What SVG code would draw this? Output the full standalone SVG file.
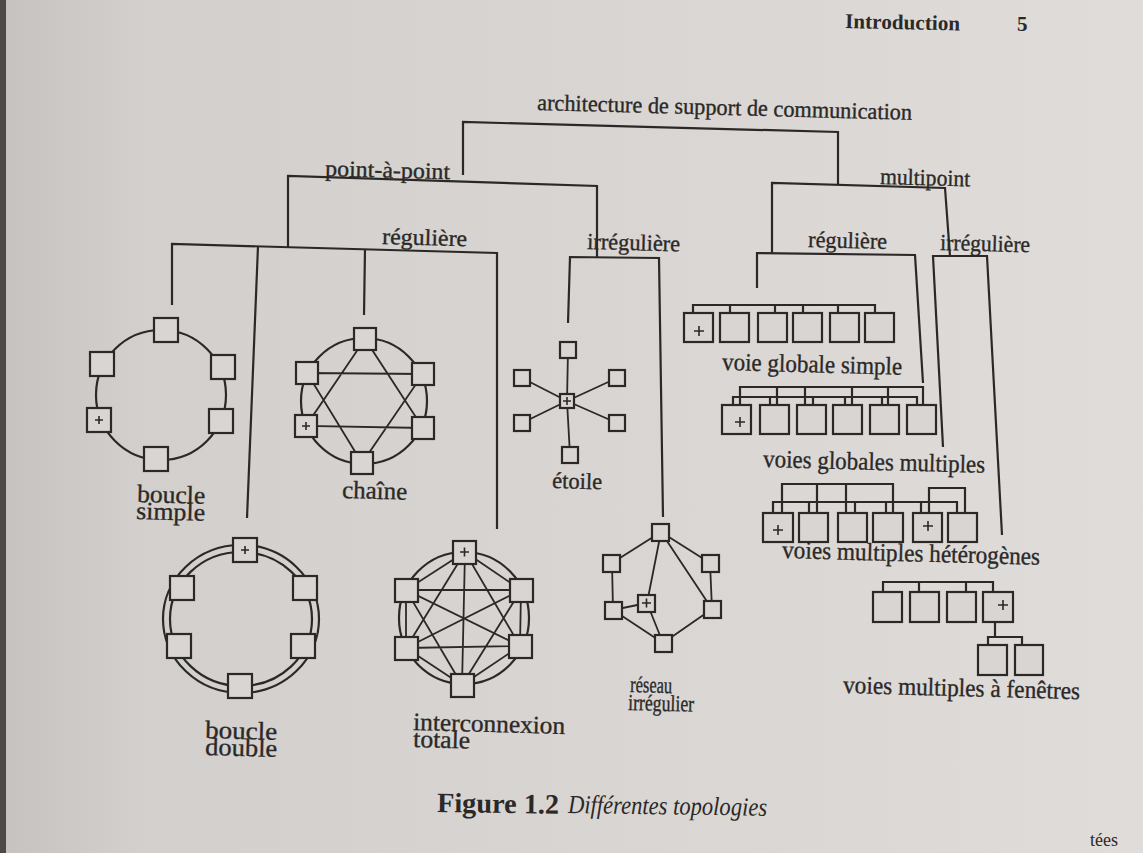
<svg xmlns="http://www.w3.org/2000/svg" width="1143" height="853" viewBox="0 0 1143 853">
<defs>
<linearGradient id="pg" x1="0" y1="0" x2="1" y2="0">
<stop offset="0" stop-color="#c6c2bf"/>
<stop offset="0.12" stop-color="#d2cfcc"/>
<stop offset="0.6" stop-color="#d9d6d3"/>
<stop offset="1" stop-color="#dfdcd9"/>
</linearGradient>
</defs>
<style>
.ln{fill:none;stroke:#2b2927;stroke-width:2.2;stroke-linejoin:miter;stroke-linecap:butt}
.th{fill:none;stroke:#2b2927;stroke-width:1.8}
.nd{fill:#d8d5d2;stroke:#2b2927;stroke-width:2.2}
.pl{fill:none;stroke:#2b2927;stroke-width:1.6}
.tx{font-family:"Liberation Serif","Times New Roman",serif;font-size:23px;fill:#2b2927;stroke:#2b2927;stroke-width:0.35}
.lo{font-size:25px}
.hd{font-family:"Liberation Serif","Times New Roman",serif;font-size:21px;font-weight:bold;fill:#2b2927}
.cap{font-family:"Liberation Serif","Times New Roman",serif;fill:#2b2927}
</style>
<rect x="0" y="0" width="1143" height="853" fill="url(#pg)"/>
<rect x="0" y="0" width="6" height="853" fill="#4d4946"/>

<g id="header">
<text class="hd" x="845" y="28" textLength="115" transform="rotate(1.2 845 28)">Introduction</text>
<text class="hd" x="1017" y="31">5</text>
</g>

<g id="connectors">
<path class="ln" d="M463,175 L463,122 L838,132 L838,184"/>
<path class="ln" d="M288,247 L288,176 L597,186 L597,257"/>
<path class="ln" d="M172,305 L172,244 L497,253 L497,529"/>
<path class="ln" d="M258,246 L247,518"/>
<path class="ln" d="M365,249 L364,315"/>
<path class="ln" d="M568,323 L570,257 L659,258 L663,517"/>
<path class="ln" d="M772,253 L772,183 L945,188 L950,256"/>
<path class="ln" d="M757,288 L757,253 L915,255 L923,383"/>
<path class="ln" d="M943,447 L933,256 L987,256 L1002,535"/>
</g>

<g id="labels-tree">
<text class="tx" x="537" y="110" textLength="375" lengthAdjust="spacingAndGlyphs" transform="rotate(1.5 537 110)">architecture de support de communication</text>
<text class="tx" x="325" y="176" textLength="125" lengthAdjust="spacingAndGlyphs" transform="rotate(1.5 325 176)">point-à-point</text>
<text class="tx" x="382" y="244" textLength="85" lengthAdjust="spacingAndGlyphs" transform="rotate(1.5 382 244)">régulière</text>
<text class="tx" x="587" y="249" textLength="93" lengthAdjust="spacingAndGlyphs" transform="rotate(1.5 587 249)">irrégulière</text>
<text class="tx" x="880" y="184" textLength="90" lengthAdjust="spacingAndGlyphs" transform="rotate(1.5 880 184)">multipoint</text>
<text class="tx" x="808" y="247" textLength="79" lengthAdjust="spacingAndGlyphs" transform="rotate(1.5 808 247)">régulière</text>
<text class="tx" x="940" y="250" textLength="90" lengthAdjust="spacingAndGlyphs" transform="rotate(1.5 940 250)">irrégulière</text>
</g>

<g id="boucle-simple">
<circle class="ln" cx="161" cy="395" r="65"/>
<rect class="nd" x="154" y="318" width="24" height="24"/>
<rect class="nd" x="211" y="355" width="24" height="24"/>
<rect class="nd" x="209" y="409" width="24" height="24"/>
<rect class="nd" x="144" y="447" width="24" height="24"/>
<rect class="nd" x="87" y="408" width="24" height="24"/>
<rect class="nd" x="90" y="352" width="24" height="24"/>
<path class="pl" d="M95,420 h8 M99,416 v8"/>
<text class="tx lo" x="137" y="502" textLength="68" lengthAdjust="spacingAndGlyphs" transform="rotate(1.5 137 502)">boucle</text>
<text class="tx lo" x="136" y="519" textLength="69" lengthAdjust="spacingAndGlyphs" transform="rotate(1.5 136 519)">simple</text>
</g>

<g id="chaine">
<circle class="ln" cx="364" cy="401" r="63"/>
<path class="th" d="M365,339 L306,426 L423,428 Z M362,463 L307,373 L423,374 Z"/>
<rect class="nd" x="354" y="328" width="22" height="22"/>
<rect class="nd" x="296" y="362" width="22" height="22"/>
<rect class="nd" x="412" y="363" width="22" height="22"/>
<rect class="nd" x="295" y="415" width="22" height="22"/>
<rect class="nd" x="412" y="417" width="22" height="22"/>
<rect class="nd" x="351" y="452" width="22" height="22"/>
<path class="pl" d="M302,426 h8 M306,422 v8"/>
<text class="tx lo" x="342" y="498" textLength="65" lengthAdjust="spacingAndGlyphs" transform="rotate(1.5 342 498)">chaîne</text>
</g>

<g id="etoile">
<path class="th" d="M567,401 L568,350 M567,401 L522,378 M567,401 L617,378 M567,401 L522,423 M567,401 L617,423 M567,401 L570,455"/>
<rect class="nd" x="560" y="342" width="16" height="16"/>
<rect class="nd" x="514" y="370" width="16" height="16"/>
<rect class="nd" x="609" y="370" width="16" height="16"/>
<rect class="nd" x="514" y="415" width="16" height="16"/>
<rect class="nd" x="609" y="415" width="16" height="16"/>
<rect class="nd" x="562" y="447" width="16" height="16"/>
<rect class="nd" x="560" y="394" width="14" height="14"/>
<path class="pl" d="M563,401 h8 M567,397 v8"/>
<text class="tx" x="552" y="488" textLength="50" lengthAdjust="spacingAndGlyphs" transform="rotate(1.5 552 488)">étoile</text>
</g>

<g id="boucle-double">
<ellipse class="ln" cx="241" cy="619" rx="78" ry="74"/>
<ellipse class="ln" cx="241" cy="619" rx="71" ry="67"/>
<rect class="nd" x="233" y="538" width="24" height="24"/>
<rect class="nd" x="170" y="576" width="24" height="24"/>
<rect class="nd" x="293" y="576" width="24" height="24"/>
<rect class="nd" x="167" y="634" width="24" height="24"/>
<rect class="nd" x="291" y="634" width="24" height="24"/>
<rect class="nd" x="228" y="674" width="24" height="24"/>
<path class="pl" d="M241,550 h8 M245,546 v8"/>
<text class="tx lo" x="205" y="738" textLength="72" lengthAdjust="spacingAndGlyphs" transform="rotate(1.5 205 738)">boucle</text>
<text class="tx lo" x="205" y="755" textLength="72" lengthAdjust="spacingAndGlyphs" transform="rotate(1.5 205 755)">double</text>
</g>

<g id="interconnexion-totale">
<ellipse class="ln" cx="464" cy="618" rx="65" ry="66"/>
<path class="th" d="M465,552 L406,590 L521,590 L406,648 L520,646 L462,685 L465,552 L521,590 L520,646 L465,552 L406,648 L462,685 L406,590 L520,646 M465,552 L520,646 M406,590 L406,648 M521,590 L462,685"/>
<rect class="nd" x="453" y="541" width="23" height="23"/>
<rect class="nd" x="395" y="579" width="23" height="23"/>
<rect class="nd" x="510" y="579" width="23" height="23"/>
<rect class="nd" x="395" y="637" width="23" height="23"/>
<rect class="nd" x="509" y="635" width="23" height="23"/>
<rect class="nd" x="451" y="674" width="23" height="23"/>
<path class="pl" d="M460,552 h9 M464.5,547.5 v9"/>
<text class="tx lo" x="413" y="730" textLength="152" lengthAdjust="spacingAndGlyphs" transform="rotate(1.5 413 730)">interconnexion</text>
<text class="tx lo" x="413" y="747" textLength="57" lengthAdjust="spacingAndGlyphs" transform="rotate(1.5 413 747)">totale</text>
</g>

<g id="reseau-irregulier">
<path class="th" d="M661,532 L612,563 M661,532 L710,563 M661,532 L647,603 M661,532 L712,609 M612,563 L613,610 M710,563 L712,609 M613,610 L647,603 M613,610 L663,643 M647,603 L663,643 M712,609 L663,643"/>
<rect class="nd" x="652" y="524" width="17" height="17"/>
<rect class="nd" x="603" y="555" width="17" height="17"/>
<rect class="nd" x="702" y="555" width="17" height="17"/>
<rect class="nd" x="638" y="595" width="17" height="17"/>
<rect class="nd" x="605" y="602" width="17" height="17"/>
<rect class="nd" x="704" y="601" width="17" height="17"/>
<rect class="nd" x="655" y="635" width="17" height="17"/>
<path class="pl" d="M642,603 h9 M646.5,598.5 v9"/>
<text class="tx" x="630" y="692" textLength="42" lengthAdjust="spacingAndGlyphs" transform="rotate(1.5 630 692)">réseau</text>
<text class="tx" x="628" y="710" textLength="66" lengthAdjust="spacingAndGlyphs" transform="rotate(1.5 628 710)">irrégulier</text>
</g>

<g id="voie-globale-simple">
<path class="ln" d="M693,313 L693,305 L875,305 L875,313 M730,305 V313 M775,305 V313 M803,305 V313 M838,305 V313"/>
<rect class="nd" x="684" y="313" width="29" height="29"/>
<rect class="nd" x="720" y="313" width="29" height="29"/>
<rect class="nd" x="758" y="313" width="29" height="29"/>
<rect class="nd" x="793" y="313" width="29" height="29"/>
<rect class="nd" x="830" y="313" width="29" height="29"/>
<rect class="nd" x="865" y="313" width="29" height="29"/>
<path class="pl" d="M694,331 h10 M699,326 v10"/>
<text class="tx lo" x="722" y="370" textLength="180" lengthAdjust="spacingAndGlyphs" transform="rotate(1.5 722 370)">voie globale simple</text>
</g>

<g id="voies-globales-multiples">
<path class="ln" d="M740,405 V387 H923 V405 M777,387 V405 M805,387 V405 M852,387 V405 M888,387 V405"/>
<path class="ln" d="M733,405 V397 H917 V405 M770,397 V405 M813,397 V405 M845,397 V405 M882,397 V405"/>
<rect class="nd" x="722" y="405" width="29" height="29"/>
<rect class="nd" x="760" y="405" width="29" height="29"/>
<rect class="nd" x="797" y="405" width="29" height="29"/>
<rect class="nd" x="833" y="405" width="29" height="29"/>
<rect class="nd" x="870" y="405" width="29" height="29"/>
<rect class="nd" x="907" y="405" width="29" height="29"/>
<path class="pl" d="M735,422 h10 M740,417 v10"/>
<text class="tx lo" x="763" y="467" textLength="222" lengthAdjust="spacingAndGlyphs" transform="rotate(1.5 763 467)">voies globales multiples</text>
</g>

<g id="voies-multiples-heterogenes">
<path class="ln" d="M782,513 V484 H893 V513 M817,484 V513 M846,484 V513"/>
<path class="ln" d="M929,513 V488 H965 V513"/>
<path class="ln" d="M773,513 V502 H957 V513 M809,502 V513 M855,502 V513 M886,502 V513 M921,502 V513"/>
<rect class="nd" x="763" y="513" width="30" height="29"/>
<rect class="nd" x="799" y="513" width="29" height="29"/>
<rect class="nd" x="838" y="513" width="29" height="29"/>
<rect class="nd" x="873" y="513" width="30" height="29"/>
<rect class="nd" x="913" y="513" width="29" height="29"/>
<rect class="nd" x="948" y="513" width="29" height="29"/>
<path class="pl" d="M773,530 h10 M778,525 v10 M923,526 h10 M928,521 v10"/>
<text class="tx lo" x="782" y="558" textLength="258" lengthAdjust="spacingAndGlyphs" transform="rotate(1.5 782 558)">voies multiples hétérogènes</text>
</g>

<g id="voies-multiples-fenetres">
<path class="ln" d="M883,592 V582 H993 V592 M919,582 V592 M966,582 V592"/>
<path class="ln" d="M995,622 V637 M988,645 V637 H1022 V645"/>
<rect class="nd" x="873" y="592" width="29" height="30"/>
<rect class="nd" x="910" y="592" width="29" height="30"/>
<rect class="nd" x="947" y="592" width="29" height="30"/>
<rect class="nd" x="983" y="592" width="30" height="30"/>
<rect class="nd" x="978" y="645" width="29" height="30"/>
<rect class="nd" x="1015" y="645" width="28" height="30"/>
<path class="pl" d="M998,605 h10 M1003,600 v10"/>
<text class="tx lo" x="843" y="693" textLength="237" lengthAdjust="spacingAndGlyphs" transform="rotate(1.5 843 693)">voies multiples à fenêtres</text>
</g>

<g id="caption">
<text class="cap" x="437" y="812" font-size="28" font-weight="bold" textLength="122" lengthAdjust="spacingAndGlyphs" transform="rotate(0.8 437 812)">Figure 1.2</text>
<text class="cap" x="568" y="813" font-size="26" font-style="italic" textLength="199" lengthAdjust="spacingAndGlyphs" transform="rotate(0.8 568 813)">Différentes topologies</text>
<text class="cap" x="1090" y="846" font-size="18">tées</text>
</g>
</svg>
